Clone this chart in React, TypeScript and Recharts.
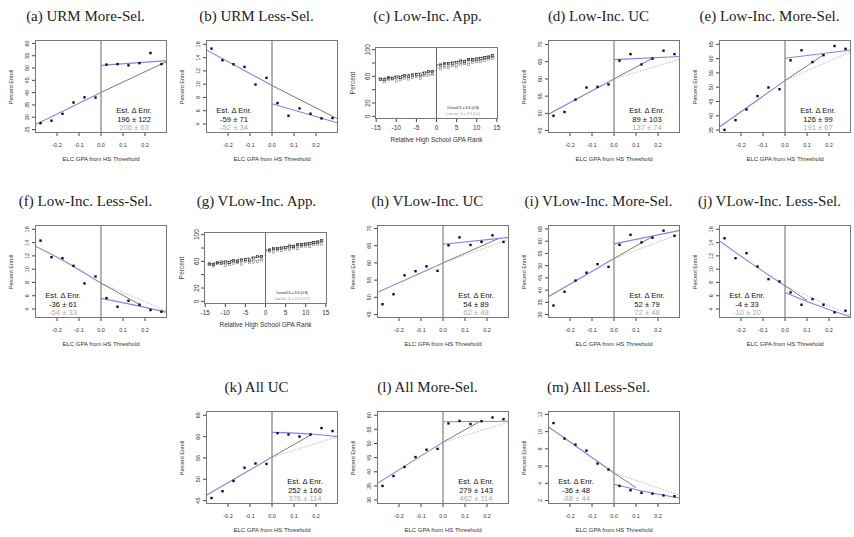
import React from 'react'
import { ComposedChart, Line, Scatter, XAxis, YAxis, ReferenceLine } from 'recharts'

type Pt = [number, number]

// bin midpoints of the ELC GPA running variable
const binsLeft = [-0.275, -0.225, -0.175, -0.125, -0.075, -0.025]
const binsRight = [0.025, 0.075, 0.125, 0.175, 0.225, 0.275]
const gpaTicks = [-0.2, -0.1, 0, 0.1, 0.2]

// (a) URM More-Sel.
const aLeft = [27.6, 28.6, 31.4, 36.0, 38.1, 38.0]
const aRight = [51.4, 51.6, 51.1, 52.0, 56.1, 51.6]
const aFitL: Pt[] = [[-0.3, 26.9], [0, 40.1]]
const aFitR: Pt[] = [[0, 51.1], [0.3, 53.0]]
const aGrey: Pt[] = [[0, 40.1], [0.3, 52.7]]

// (b) URM Less-Sel.
const bLeft = [15.35, 13.6, 13.0, 12.6, 9.95, 10.95]
const bRight = [7.15, 5.25, 6.35, 5.55, 4.85, 4.9]
const bFitL: Pt[] = [[-0.3, 15.2], [0, 9.8]]
const bFitR: Pt[] = [[0, 7.05], [0.3, 4.15]]
const bGrey: Pt[] = [[0, 9.8], [0.3, 4.75]]

// (d) Low-Inc. UC
const dLeft = [49.3, 50.4, 54.0, 57.5, 57.7, 58.4]
const dRight = [65.3, 67.2, 64.2, 65.9, 68.2, 67.2]
const dFitL: Pt[] = [[-0.3, 49.7], [0, 60.0]]
const dFitR: Pt[] = [[0, 65.6], [0.3, 66.5]]
const dGrey: Pt[] = [[0, 60.0], [0.175, 66.0]]
const dDot: Pt[] = [[0, 60.0], [0.3, 65.7]]

// (e) Low-Inc. More-Sel.
const eLeft = [35.1, 38.5, 42.2, 46.9, 49.9, 49.3]
const eRight = [59.4, 62.9, 58.8, 61.2, 64.4, 63.4]
const eFitL: Pt[] = [[-0.3, 36.0], [0, 52.3]]
const eFitR: Pt[] = [[0, 60.1], [0.3, 63.0]]
const eGrey: Pt[] = [[0, 52.3], [0.175, 61.3]]
const eDot: Pt[] = [[0, 52.3], [0.3, 62.5]]

// (f) Low-Inc. Less-Sel.
const fLeft = [14.3, 11.8, 11.65, 10.5, 7.85, 8.9]
const fRight = [5.65, 4.35, 5.25, 4.65, 3.85, 3.6]
const fFitL: Pt[] = [[-0.3, 13.5], [-0.15, 10.9], [0, 7.9]]
const fFitR: Pt[] = [[0, 5.6], [0.18, 4.4], [0.3, 3.5]]
const fGrey: Pt[] = [[0, 7.9], [0.18, 4.6]]
const fDot: Pt[] = [[0, 7.9], [0.3, 3.7]]

// (h) VLow-Inc. UC
const hLeft = [48.0, 50.9, 56.4, 57.6, 59.0, 57.7]
const hRight = [65.1, 67.4, 65.2, 66.1, 68.0, 66.1]
const hFitL: Pt[] = [[-0.3, 51.4], [0, 60.0]]
const hFitR: Pt[] = [[0, 65.4], [0.3, 67.4]]
const hGrey: Pt[] = [[0, 60.0], [0.25, 67.0]]
const hDot: Pt[] = [[0, 60.0], [0.3, 66.8]]

// (i) VLow-Inc. More-Sel.
const iLeft = [33.7, 39.3, 43.9, 47.1, 50.6, 49.5]
const iRight = [58.5, 62.6, 59.5, 61.4, 64.3, 62.2]
const iFitL: Pt[] = [[-0.3, 37.2], [0, 52.9]]
const iFitR: Pt[] = [[0, 58.9], [0.3, 64.4]]
const iGrey: Pt[] = [[0, 52.9], [0.175, 61.9]]
const iDot: Pt[] = [[0, 52.9], [0.3, 63.0]]

// (j) VLow-Inc. Less-Sel.
const jLeft = [14.65, 11.65, 12.4, 10.4, 8.5, 8.15]
const jRight = [6.5, 4.65, 5.5, 4.65, 3.5, 3.75]
const jFitL: Pt[] = [[-0.3, 14.3], [-0.15, 10.8], [0, 7.5]]
const jFitR: Pt[] = [[0, 6.5], [0.08, 5.4], [0.18, 4.15], [0.3, 2.8]]
const jGrey: Pt[] = [[0, 7.5], [0.1, 5.3]]
const jDot: Pt[] = [[0, 7.5], [0.3, 3.0]]

// (k) All UC
const kLeft = [45.6, 47.2, 49.6, 52.7, 53.7, 53.6]
const kRight = [60.8, 60.5, 60.0, 60.5, 62.0, 61.3]
const kFitL: Pt[] = [[-0.3, 46.2], [0, 55.2]]
const kFitR: Pt[] = [[0, 61.0], [0.18, 60.6], [0.3, 60.0]]
const kGrey: Pt[] = [[0, 55.2], [0.18, 60.5]]
const kDot: Pt[] = [[0, 55.2], [0.3, 60.0]]

// (l) All More-Sel.
const lLeft = [35.0, 38.5, 41.7, 45.2, 47.8, 48.1]
const lRight = [57.1, 58.0, 56.9, 57.9, 59.2, 58.6]
const lFitL: Pt[] = [[-0.3, 35.8], [0, 50.5]]
const lFitR: Pt[] = [[0, 57.7], [0.3, 57.9]]
const lGrey: Pt[] = [[0, 50.5], [0.17, 57.9]]
const lDot: Pt[] = [[0, 50.5], [0.3, 57.6]]

// (m) All Less-Sel.
const mLeft = [11.0, 9.2, 8.5, 7.8, 6.3, 5.6]
const mRight = [3.7, 3.2, 2.9, 2.8, 2.6, 2.5]
const mFitL: Pt[] = [[-0.3, 10.6], [0, 5.2]]
const mFitR: Pt[] = [[0, 3.9], [0.15, 3.0], [0.3, 2.3]]
const mGrey: Pt[] = [[0, 5.2], [0.1, 3.5]]
const mDot: Pt[] = [[0, 5.2], [0.3, 2.6]]

// application panels (c), (g): relative HS GPA rank
const rankLeft = [-14, -13, -12, -11, -10, -9, -8, -7, -6, -5, -4, -3, -2, -1]
const rankRight = [1, 2, 3, 4, 5, 6, 7, 8, 9, 10, 11, 12, 13, 14]
const rankTicks = [-15, -10, -5, 0, 5, 10, 15]
const pctTicks = [0, 20, 40, 60, 80, 100]
const overallLeft = [56, 55, 58, 57, 59, 58, 61, 60, 62, 63, 62, 65, 67, 67]
const overallRight = [77, 79, 79, 80, 81, 83, 82, 85, 85, 86, 87, 88, 89, 91]
const overallFitL: Pt[] = [[-14, 56.5], [0, 68.5]]
const overallFitR: Pt[] = [[0, 77], [14, 91]]
const cLowLeft = [55, 52, 55, 56, 53, 55, 57, 56, 58, 60, 57, 61, 62, 63]
const cLowRight = [71, 74, 73, 76, 75, 78, 79, 78, 81, 82, 82, 84, 86, 87]
const cLowFitL: Pt[] = [[-14, 54], [0, 63.5]]
const cLowFitR: Pt[] = [[0, 72.5], [14, 88]]
const gLowLeft = [56, 53, 57, 60, 54, 55, 57, 58, 56, 60, 58, 59, 60, 62]
const gLowRight = [75, 74, 77, 76, 78, 78, 80, 79, 82, 83, 82, 85, 86, 86]
const gLowFitL: Pt[] = [[-14, 54.5], [0, 63]]
const gLowFitR: Pt[] = [[0, 75], [14, 88]]

const BLUE = '#8282f0'
const SANS = '"Liberation Sans", Arial, Helvetica, sans-serif'
const SERIF = '"Liberation Serif", "Times New Roman", serif'
const rowTop = [0, 185, 371]

interface RD {
  title: string
  col: number
  row: number
  left: number[]
  right: number[]
  fitL: Pt[]
  fitR: Pt[]
  grey: Pt[]
  dot?: Pt[]
  yDomain: [number, number]
  yTicks: number[]
  est: [string, string]
  side: 'left' | 'right'
}

const t5 = (a: number, b: number) => {
  const out: number[] = []
  for (let v = a; v <= b; v += 5) out.push(v)
  return out
}
const evens = [4, 6, 8, 10, 12, 14, 16]

const rdPanels: RD[] = [
  { title: '(a) URM More-Sel.', col: 0, row: 0, left: aLeft, right: aRight, fitL: aFitL, fitR: aFitR, grey: aGrey, yDomain: [23.6, 61.4], yTicks: t5(25, 60), est: ['196 ± 122', '206 ± 63'], side: 'right' },
  { title: '(b) URM Less-Sel.', col: 1, row: 0, left: bLeft, right: bRight, fitL: bFitL, fitR: bFitR, grey: bGrey, yDomain: [2.65, 16.65], yTicks: evens, est: ['-59 ± 71', '-52 ± 34'], side: 'left' },
  { title: '(d) Low-Inc. UC', col: 3, row: 0, left: dLeft, right: dRight, fitL: dFitL, fitR: dFitR, grey: dGrey, dot: dDot, yDomain: [44.3, 71.3], yTicks: t5(45, 70), est: ['89 ± 103', '137 ± 74'], side: 'right' },
  { title: '(e) Low-Inc. More-Sel.', col: 4, row: 0, left: eLeft, right: eRight, fitL: eFitL, fitR: eFitR, grey: eGrey, dot: eDot, yDomain: [34, 66.5], yTicks: t5(35, 65), est: ['126 ± 99', '191 ± 67'], side: 'right' },
  { title: '(f) Low-Inc. Less-Sel.', col: 0, row: 1, left: fLeft, right: fRight, fitL: fFitL, fitR: fFitR, grey: fGrey, dot: fDot, yDomain: [2.65, 16.65], yTicks: evens, est: ['-36 ± 61', '-54 ± 33'], side: 'left' },
  { title: '(h) VLow-Inc. UC', col: 2, row: 1, left: hLeft, right: hRight, fitL: hFitL, fitR: hFitR, grey: hGrey, dot: hDot, yDomain: [44, 71], yTicks: t5(45, 70), est: ['54 ± 89', '62 ± 48'], side: 'right' },
  { title: '(i) VLow-Inc. More-Sel.', col: 3, row: 1, left: iLeft, right: iRight, fitL: iFitL, fitR: iFitR, grey: iGrey, dot: iDot, yDomain: [28.6, 66.6], yTicks: t5(30, 65), est: ['52 ± 79', '72 ± 48'], side: 'right' },
  { title: '(j) VLow-Inc. Less-Sel.', col: 4, row: 1, left: jLeft, right: jRight, fitL: jFitL, fitR: jFitR, grey: jGrey, dot: jDot, yDomain: [2.65, 16.65], yTicks: evens, est: ['-4 ± 33', '-10 ± 20'], side: 'left' },
  { title: '(k) All UC', col: 1, row: 2, left: kLeft, right: kRight, fitL: kFitL, fitR: kFitR, grey: kGrey, dot: kDot, yDomain: [44.2, 66], yTicks: t5(45, 65), est: ['252 ± 166', '376 ± 114'], side: 'right' },
  { title: '(l) All More-Sel.', col: 2, row: 2, left: lLeft, right: lRight, fitL: lFitL, fitR: lFitR, grey: lGrey, dot: lDot, yDomain: [28.6, 61.5], yTicks: t5(30, 60), est: ['279 ± 143', '462 ± 114'], side: 'right' },
  { title: '(m) All Less-Sel.', col: 3, row: 2, left: mLeft, right: mRight, fitL: mFitL, fitR: mFitR, grey: mGrey, dot: mDot, yDomain: [1.6, 12.4], yTicks: [2, 4, 6, 8, 10, 12], est: ['-36 ± 48', '-88 ± 44'], side: 'left' },
]

const xy = (pts: Pt[]) => pts.map(([x, y]) => ({ x, y }))

const titleStyle: React.CSSProperties = {
  position: 'absolute', left: 0, top: 8, width: 171, textAlign: 'center',
  fontFamily: SERIF, fontSize: 15, lineHeight: '17px', color: '#1c1c24', whiteSpace: 'nowrap',
}

function RotTick(props: any) {
  const { x, y, payload, size, show } = props
  if (show && !show.includes(payload.value)) return <g />
  return (
    <text x={x} y={y} transform={`rotate(-90 ${x} ${y})`} textAnchor="middle" fontSize={size} fill="#333" fontFamily={SANS}>
      {payload.value}
    </text>
  )
}

const Sq = (props: any) => <rect x={props.cx - 1.2} y={props.cy - 1.2} width={2.4} height={2.4} fill="#111" />
const OpenSq = (color: string) => (props: any) => (
  <rect x={props.cx - 1.1} y={props.cy - 1.1} width={2.2} height={2.2} fill="none" stroke={color} strokeWidth={0.6} />
)

function Label({ x, y, w, h = 10, text, size, color = '#333', rotate = false }: any) {
  return (
    <div style={{
      position: 'absolute', left: x - w / 2, top: y - h / 2, width: w, height: h, lineHeight: `${h}px`,
      textAlign: 'center', fontSize: size, color, fontFamily: SANS, whiteSpace: 'nowrap',
      transform: rotate ? 'rotate(-90deg)' : undefined,
    }}>{text}</div>
  )
}

function RDPanel({ p }: { p: RD }) {
  const pts = [
    ...binsLeft.map((x, i) => ({ x, y: p.left[i] })),
    ...binsRight.map((x, i) => ({ x, y: p.right[i] })),
  ]
  const cx = p.side === 'right' ? 134 : 63
  return (
    <div style={{ position: 'absolute', left: p.col * 171, top: rowTop[p.row], width: 171, height: 185 }}>
      <div style={titleStyle}>{p.title}</div>
      <div style={{ position: 'absolute', left: 0, top: 0 }}>
        <ComposedChart width={171} height={170} margin={{ top: 40, right: 4, bottom: 21, left: 15 }}>
          <XAxis type="number" dataKey="x" domain={[-0.3, 0.3]} ticks={gpaTicks} allowDataOverflow height={16}
            interval={0} tickSize={3} tickMargin={7} axisLine={false} stroke="#444"
            tick={{ fontSize: 5.5, fill: '#333', fontFamily: SANS }} tickFormatter={(v: number) => v.toFixed(1)} />
          <YAxis type="number" dataKey="y" domain={p.yDomain} ticks={p.yTicks} allowDataOverflow width={20}
            interval={0} tickSize={3} tickMargin={3} axisLine={false} stroke="#444"
            tick={(tp: any) => <RotTick {...tp} size={5.5} />} />
          <ReferenceLine x={0} stroke="#666" strokeWidth={1} />
          {p.dot && <Line data={xy(p.dot)} dataKey="y" stroke="#bbbbbb" strokeDasharray="1.5 1.5" strokeWidth={1} dot={false} isAnimationActive={false} />}
          <Line data={xy(p.grey)} dataKey="y" stroke="#7a7a7a" strokeWidth={1} dot={false} isAnimationActive={false} />
          <Line data={xy(p.fitL)} dataKey="y" type="monotone" stroke={BLUE} strokeWidth={1.1} dot={false} isAnimationActive={false} />
          <Line data={xy(p.fitR)} dataKey="y" type="monotone" stroke={BLUE} strokeWidth={1.1} dot={false} isAnimationActive={false} />
          <Scatter data={pts} shape={Sq} isAnimationActive={false} />
        </ComposedChart>
      </div>
      <div style={{ position: 'absolute', left: 35, top: 40, width: 132, height: 93, boxSizing: 'border-box', border: '1px solid #777' }} />
      <Label x={11} y={86.5} w={60} text="Percent Enroll" size={5.5} rotate />
      <Label x={101} y={159} w={120} text="ELC GPA from HS Threshold" size={6} />
      <Label x={cx} y={111.2} w={60} h={8} text="Est. Δ Enr." size={7.6} color="#111" />
      <Label x={cx} y={119.6} w={60} h={8} text={p.est[0]} size={7.6} color="#111" />
      <Label x={cx} y={128} w={60} h={8} text={p.est[1]} size={7.6} color="#aaaaaa" />
    </div>
  )
}

interface AP {
  title: string
  col: number
  row: number
  lowLeft: number[]
  lowRight: number[]
  lowFitL: Pt[]
  lowFitR: Pt[]
  legend: [string, string]
}

const appPanels: AP[] = [
  { title: '(c) Low-Inc. App.', col: 2, row: 0, lowLeft: cLowLeft, lowRight: cLowRight, lowFitL: cLowFitL, lowFitR: cLowFitR, legend: ['Overall δ = 8.6 (0.8)', 'Low-Inc. δ = 9.3 (1.0)'] },
  { title: '(g) VLow-Inc. App.', col: 1, row: 1, lowLeft: gLowLeft, lowRight: gLowRight, lowFitL: gLowFitL, lowFitR: gLowFitR, legend: ['Overall δ = 8.6 (0.8)', 'Low-Inc. δ = 12.0 (2.7)'] },
]

function AppPanel({ p }: { p: AP }) {
  const overall = [
    ...rankLeft.map((x, i) => ({ x, y: overallLeft[i] })),
    ...rankRight.map((x, i) => ({ x, y: overallRight[i] })),
  ]
  const low = [
    ...rankLeft.map((x, i) => ({ x, y: p.lowLeft[i] })),
    ...rankRight.map((x, i) => ({ x, y: p.lowRight[i] })),
  ]
  return (
    <div style={{ position: 'absolute', left: p.col * 171, top: rowTop[p.row], width: 171, height: 185 }}>
      <div style={titleStyle}>{p.title}</div>
      <div style={{ position: 'absolute', left: 0, top: 0 }}>
        <ComposedChart width={171} height={170} margin={{ top: 47, right: 15, bottom: 35, left: 15 }}>
          <XAxis type="number" dataKey="x" domain={[-15.3, 15.3]} ticks={rankTicks} allowDataOverflow height={16}
            interval={0} tickSize={3} tickMargin={3} axisLine={false} stroke="#444"
            tick={{ fontSize: 6.5, fill: '#333', fontFamily: SANS }} />
          <YAxis type="number" dataKey="y" domain={[-4, 104]} ticks={pctTicks} allowDataOverflow width={18}
            interval={0} tickSize={3} tickMargin={2} axisLine={false} stroke="#444"
            tick={(tp: any) => <RotTick {...tp} size={6.5} show={[0, 20, 60, 100]} />} />
          <ReferenceLine x={0} stroke="#666" strokeWidth={1} />
          <Line data={xy(p.lowFitL)} dataKey="y" stroke="#888" strokeDasharray="2 1.5" strokeWidth={0.8} dot={false} isAnimationActive={false} />
          <Line data={xy(p.lowFitR)} dataKey="y" stroke="#888" strokeDasharray="2 1.5" strokeWidth={0.8} dot={false} isAnimationActive={false} />
          <Line data={xy(overallFitL)} dataKey="y" stroke="#222" strokeDasharray="2 1.5" strokeWidth={0.8} dot={false} isAnimationActive={false} />
          <Line data={xy(overallFitR)} dataKey="y" stroke="#222" strokeDasharray="2 1.5" strokeWidth={0.8} dot={false} isAnimationActive={false} />
          <Scatter data={low} shape={OpenSq('#888')} isAnimationActive={false} />
          <Scatter data={overall} shape={OpenSq('#222')} isAnimationActive={false} />
        </ComposedChart>
      </div>
      <div style={{ position: 'absolute', left: 33, top: 47, width: 123, height: 72, boxSizing: 'border-box', border: '1px solid #777' }} />
      <Label x={11} y={83} w={50} text="Percent" size={6.5} rotate />
      <Label x={94.5} y={140} w={130} text="Relative High School GPA Rank" size={6.5} />
      <Label x={121} y={108} w={60} h={5} text={p.legend[0]} size={3.6} color="#222" />
      <Label x={121} y={114} w={60} h={5} text={p.legend[1]} size={3.6} color="#999" />
    </div>
  )
}

export default function App() {
  return (
    <div style={{ position: 'absolute', left: 0, top: 0, width: 854, height: 537, background: '#fff', overflow: 'hidden' }}>
      {rdPanels.map((p) => <RDPanel key={p.title} p={p} />)}
      {appPanels.map((p) => <AppPanel key={p.title} p={p} />)}
    </div>
  )
}
